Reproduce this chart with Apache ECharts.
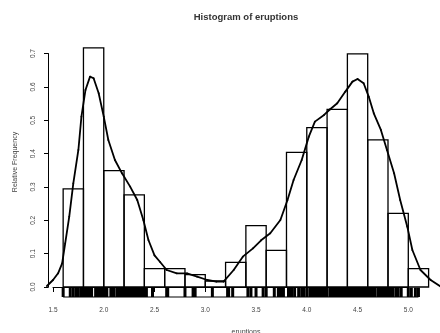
<!DOCTYPE html>
<html>
<head>
<meta charset="utf-8">
<script src="https://cdn.jsdelivr.net/npm/echarts@6/dist/echarts.min.js"></script>
<style>html,body{margin:0;padding:0;background:#fff}#c{width:440px;height:333px}</style>
</head>
<body>
<div id="c"></div>
<script>
// Histogram breaks and bar heights (relative frequency / density)
var breaks = [1.6,1.8,2.0,2.2,2.4,2.6,2.8,3.0,3.2,3.4,3.6,3.8,4.0,4.2,4.4,4.6,4.8,5.0,5.2];
var histDensity = [0.294,0.717,0.349,0.276,0.055,0.055,0.037,0.018,0.074,0.184,0.110,0.404,0.478,0.533,0.699,0.441,0.221,0.055];

// Density curve
var densX = [1.44,1.50,1.55,1.59,1.62,1.66,1.70,1.75,1.78,1.82,1.865,1.90,1.95,2.00,2.045,2.11,2.18,2.26,2.33,2.39,2.44,2.50,2.555,2.62,2.72,2.82,2.92,3.02,3.11,3.18,3.28,3.37,3.47,3.55,3.64,3.74,3.81,3.87,3.95,4.02,4.08,4.17,4.23,4.30,4.38,4.45,4.50,4.56,4.61,4.66,4.73,4.79,4.86,4.92,4.99,5.04,5.12,5.22,5.32];
var densY = [0.003,0.021,0.041,0.071,0.131,0.211,0.311,0.411,0.511,0.591,0.631,0.626,0.581,0.511,0.441,0.381,0.341,0.301,0.261,0.201,0.141,0.095,0.075,0.051,0.041,0.041,0.031,0.021,0.016,0.016,0.051,0.091,0.116,0.140,0.161,0.201,0.261,0.321,0.381,0.451,0.496,0.516,0.533,0.551,0.586,0.616,0.624,0.611,0.571,0.521,0.471,0.411,0.341,0.261,0.181,0.111,0.051,0.021,0.001];

// Rug (eruption durations)
var rugValues = [1.60,1.67,1.70,1.73,1.75,1.78,1.80,1.82,1.83,1.85,1.87,1.88,1.92,1.93,1.95,1.97,1.98,
2.00,2.02,2.03,2.07,2.08,2.10,2.13,2.15,2.17,2.18,2.20,2.22,2.23,2.25,2.27,2.28,2.30,2.32,2.33,2.35,2.37,2.38,
2.40,2.42,2.48,2.62,2.63,2.80,2.88,2.90,3.07,3.22,3.23,3.27,3.42,3.45,3.50,3.57,3.60,3.68,3.72,3.73,3.75,3.77,
3.82,3.83,3.85,3.88,3.92,3.95,3.97,4.00,4.03,4.05,4.07,4.08,4.10,4.12,4.13,4.15,4.17,4.18,
4.20,4.23,4.25,4.27,4.28,4.30,4.32,4.33,4.35,4.37,4.38,4.40,4.42,4.43,4.45,4.47,4.48,4.50,4.52,4.53,4.55,4.57,4.58,
4.60,4.62,4.63,4.65,4.67,4.70,4.72,4.73,4.75,4.77,4.78,4.80,4.82,4.83,4.85,4.88,4.90,4.93,5.00,5.03,5.07,5.10];

var xTicks = [1.5, 5.0, 0.5];   // min, max, step
var yTicks = [0, 0.7, 0.1];

var titleText = 'Histogram of eruptions';
var xTitle = 'eruptions';
var yTitle = 'Relative Frequency';

var rugBottom = -0.03, rugTop = -0.002;

var histData = histDensity.map(function (h, i) { return [breaks[i], breaks[i + 1], h]; });
var densData = densX.map(function (x, i) { return [x, densY[i]]; });
var rugData = rugValues.map(function (v) { return [v]; });
var rugMin = Math.min.apply(null, rugValues), rugMax = Math.max.apply(null, rugValues);

var txtColor = '#444';
var font = '"Liberation Sans", Arial, sans-serif';

var chart = echarts.init(document.getElementById('c'), null, { renderer: 'canvas' });
chart.setOption({
  backgroundColor: '#fff',
  animation: false,
  grid: { left: 53, right: 31.7, top: 53.6, bottom: 46, containLabel: false },
  graphic: [
    { type: 'text', x: 246, y: 17, style: { text: titleText, font: 'bold 9.5px ' + font, fill: '#333', align: 'center', verticalAlign: 'middle' } },
    { type: 'text', x: 15, y: 162, rotation: Math.PI / 2, style: { text: yTitle, font: '7px ' + font, fill: txtColor, align: 'center', verticalAlign: 'middle' } },
    { type: 'text', x: 246, y: 332, style: { text: xTitle, font: '7px ' + font, fill: txtColor, align: 'center', verticalAlign: 'middle' } }
  ],
  xAxis: {
    type: 'value', min: xTicks[0], max: xTicks[1], interval: xTicks[2], offset: 10,
    splitLine: { show: false },
    axisLine: { show: true, lineStyle: { color: '#000', width: 1 } },
    axisTick: { show: true, length: 5, lineStyle: { color: '#000', width: 1 } },
    axisLabel: { margin: 10, fontSize: 6.5, color: txtColor, fontFamily: font, formatter: function (v) { return v.toFixed(1); } }
  },
  yAxis: {
    type: 'value', min: yTicks[0], max: yTicks[1], interval: yTicks[2], offset: 4.5,
    splitLine: { show: false },
    axisLine: { show: true, lineStyle: { color: '#000', width: 1 } },
    axisTick: { show: true, length: 4.5, lineStyle: { color: '#000', width: 1 } },
    axisLabel: { rotate: 90, margin: 11.5, fontSize: 6.5, color: txtColor, fontFamily: font, formatter: function (v) { return v.toFixed(1); } }
  },
  series: [
    {
      type: 'custom', name: 'hist', data: histData, encode: { x: [0, 1], y: 2 }, clip: false, z: 2,
      renderItem: function (params, api) {
        var p0 = api.coord([api.value(0), 0]);
        var p1 = api.coord([api.value(1), api.value(2)]);
        return { type: 'rect', shape: { x: p0[0], y: p1[1], width: p1[0] - p0[0], height: p0[1] - p1[1] },
          style: { fill: 'none', stroke: '#000', lineWidth: 1.3 } };
      }
    },
    {
      type: 'custom', name: 'density', data: densData, encode: { x: 0, y: 1 }, clip: false, z: 3,
      renderItem: function (params, api) {
        var i = params.dataIndex;
        if (i === 0) return null;
        var a = api.coord(densData[i - 1]);
        var b = api.coord([api.value(0), api.value(1)]);
        return { type: 'line', shape: { x1: a[0], y1: a[1], x2: b[0], y2: b[1] },
          style: { stroke: '#000', lineWidth: 1.8, lineCap: 'round' } };
      }
    },
    {
      type: 'custom', name: 'rug', data: rugData, encode: { x: 0 }, clip: false, z: 4,
      renderItem: function (params, api) {
        var v = api.value(0);
        var a = api.coord([v, rugBottom]), b = api.coord([v, rugTop]);
        return { type: 'line', shape: { x1: a[0], y1: a[1], x2: b[0], y2: b[1] }, style: { stroke: '#000', lineWidth: 3 } };
      }
    },
    {
      type: 'custom', name: 'rugbase', data: [[rugMin, rugMax]], encode: { x: [0, 1] }, clip: false, z: 4,
      renderItem: function (params, api) {
        var a = api.coord([api.value(0), rugBottom]), b = api.coord([api.value(1), rugBottom]);
        return { type: 'line', shape: { x1: a[0], y1: a[1], x2: b[0], y2: b[1] }, style: { stroke: '#000', lineWidth: 1 } };
      }
    }
  ]
});
</script>
</body>
</html>
